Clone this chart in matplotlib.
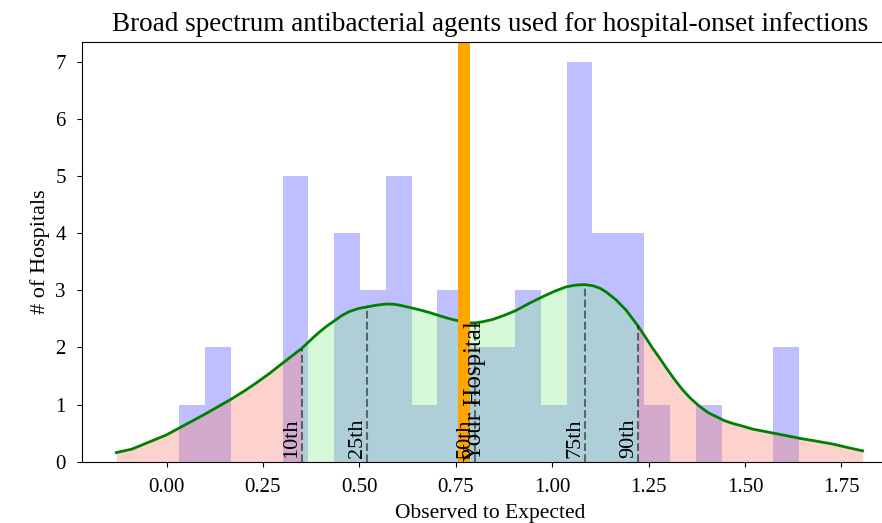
import matplotlib.pyplot as plt
import numpy as np

plt.rcParams['font.family'] = ['Liberation Serif', 'DejaVu Serif']

# hospital counts per O/E bin (24 equal bins from the min to the max ratio)
bin_lo, bin_hi = 0.033, 1.640
counts = [1, 2, 0, 0, 5, 0, 4, 3, 5, 1, 3, 2, 2, 3, 1, 7, 4, 4, 1, 0, 1, 0, 0, 2]

# density curve, scaled to hospital counts
kde_x = [-0.130, -0.090, -0.043, 0.000, 0.033, 0.066, 0.099, 0.130, 0.164, 0.200,
         0.233, 0.266, 0.300, 0.325, 0.350, 0.372, 0.393, 0.415, 0.436, 0.455,
         0.475, 0.497, 0.520, 0.545, 0.570, 0.590, 0.604, 0.630, 0.655, 0.682,
         0.710, 0.735, 0.760, 0.775, 0.790, 0.800, 0.820, 0.846, 0.875, 0.907,
         0.940, 0.976, 1.005, 1.036, 1.060, 1.084, 1.105, 1.123, 1.140, 1.166,
         1.192, 1.222, 1.240, 1.260, 1.278, 1.295, 1.316, 1.338, 1.360, 1.382,
         1.404, 1.425, 1.446, 1.468, 1.495, 1.520, 1.547, 1.574, 1.608, 1.641,
         1.685, 1.727, 1.765, 1.805]
kde_y = [0.16, 0.22, 0.35, 0.47, 0.59, 0.71, 0.83, 0.95, 1.08, 1.23,
         1.38, 1.54, 1.72, 1.85, 1.98, 2.12, 2.25, 2.37, 2.47, 2.56,
         2.63, 2.68, 2.71, 2.74, 2.76, 2.755, 2.74, 2.70, 2.66, 2.61,
         2.55, 2.50, 2.46, 2.44, 2.43, 2.43, 2.45, 2.49, 2.56, 2.65,
         2.77, 2.89, 2.98, 3.06, 3.09, 3.10, 3.08, 3.04, 2.97, 2.83,
         2.65, 2.38, 2.20, 1.99, 1.82, 1.65, 1.45, 1.26, 1.10, 0.97,
         0.86, 0.79, 0.72, 0.67, 0.62, 0.57, 0.535, 0.50, 0.455, 0.41,
         0.36, 0.31, 0.25, 0.19]

pct_labels = ['10th', '25th', '50th', '75th', '90th']
pct_values = [0.350, 0.520, 0.800, 1.084, 1.222]
your_hospital = 0.771

kde_x = np.array(kde_x)
kde_y = np.array(kde_y)
edges = np.linspace(bin_lo, bin_hi, len(counts) + 1)

fig = plt.figure(figsize=(8.82, 5.23), dpi=100)
ax = fig.add_axes([0.0926, 0.1172, 0.927, 0.803])

ax.bar(edges[:-1], counts, width=np.diff(edges), align='edge', color='blue', alpha=0.25)

# shade under the curve: tails outside 10th-90th in salmon, middle in green
p10, p90 = pct_values[0], pct_values[-1]
ax.fill_between(kde_x, kde_y, where=kde_x <= p10, color='salmon', alpha=0.35, linewidth=0)
ax.fill_between(kde_x, kde_y, where=(kde_x >= p10) & (kde_x <= p90), color='lightgreen', alpha=0.35, linewidth=0)
ax.fill_between(kde_x, kde_y, where=kde_x >= p90, color='salmon', alpha=0.35, linewidth=0)
ax.plot(kde_x, kde_y, color='green', linewidth=2)

for lab, v in zip(pct_labels, pct_values):
    h = np.interp(v, kde_x, kde_y)
    ax.plot([v, v], [0, h], color='k', linestyle='--', alpha=0.5, linewidth=1.5)
    ax.text(v, 0.07, lab, rotation=90, ha='right', va='bottom', fontsize=16)

ax.axvline(your_hospital, color='orange', linewidth=8.6)
ax.text(your_hospital, 0.02, 'Your Hospital', rotation=90, ha='left', va='bottom', fontsize=18)

ax.set_xlim(-0.22, 1.90)
ax.set_xticks([0, 0.25, 0.5, 0.75, 1.0, 1.25, 1.5, 1.75])
ax.tick_params(labelsize=15, pad=8)
ax.set_xlabel('Observed to Expected', fontsize=15.5, labelpad=5)
ax.set_ylabel('# of Hospitals', fontsize=16, labelpad=4)
ax.set_title('Broad spectrum antibacterial agents used for hospital-onset infections', fontsize=19.5, pad=8)

fig.savefig('out.png', dpi=100)
